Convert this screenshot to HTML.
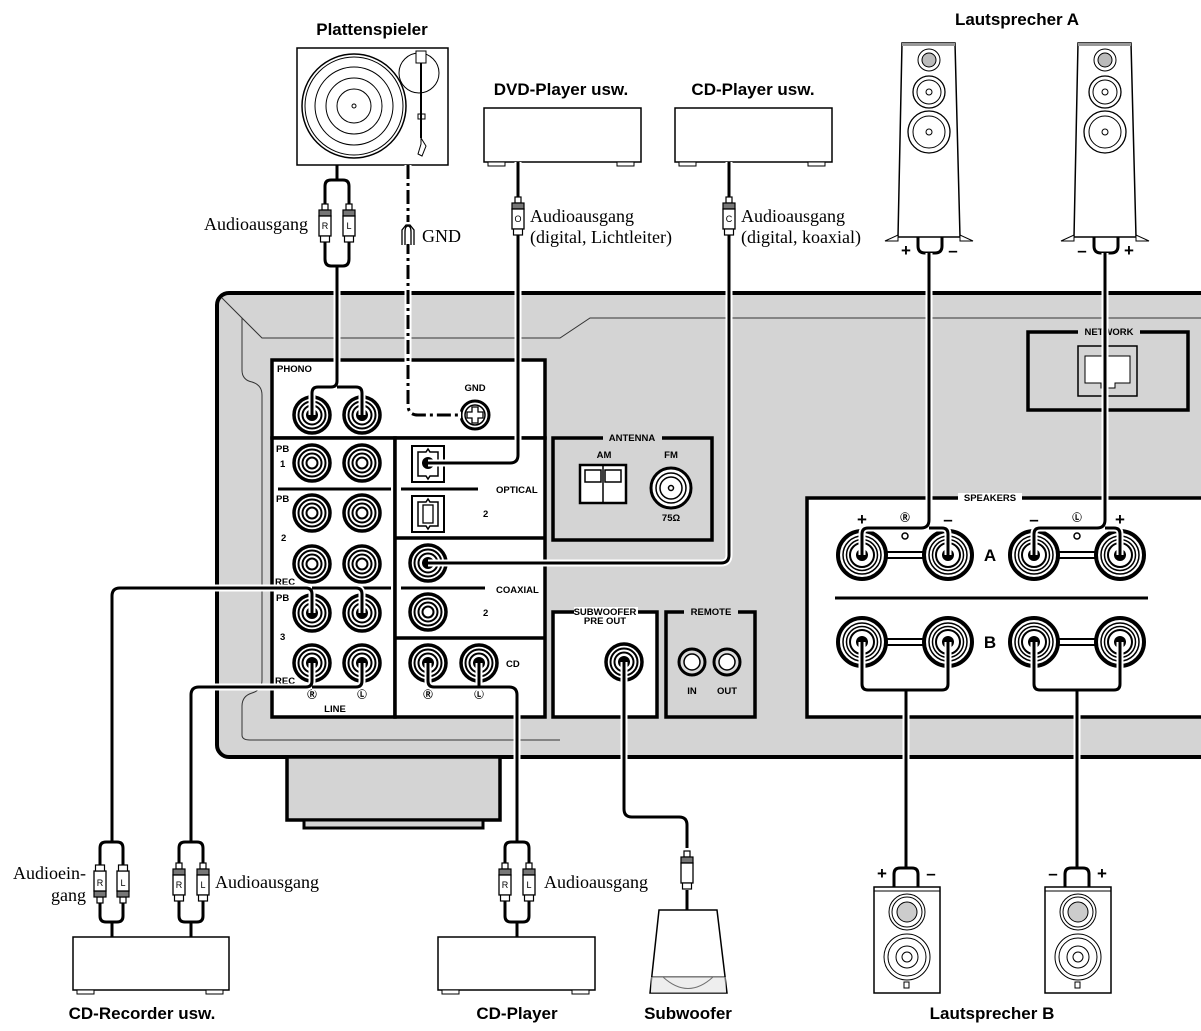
<!DOCTYPE html>
<html><head><meta charset="utf-8"><style>
html,body{margin:0;padding:0;background:#fff}
svg{display:block}
.t{font-family:"Liberation Serif",serif;font-size:18px}
.b{font-family:"Liberation Sans",sans-serif;font-weight:bold;font-size:17px}
.s{font-family:"Liberation Sans",sans-serif;font-weight:bold;font-size:9.5px}
</style></head><body>
<svg width="1201" height="1031" viewBox="0 0 1201 1031" xmlns="http://www.w3.org/2000/svg">
<defs>
<g id="je"><circle r="18" fill="#fff" stroke="#000" stroke-width="3.5"/><circle r="13.5" fill="none" stroke="#000" stroke-width="2"/><circle r="9.5" fill="none" stroke="#000" stroke-width="2"/><circle r="5.5" fill="#fff" stroke="#000" stroke-width="2"/></g>
<g id="jf"><circle r="18" fill="#fff" stroke="#000" stroke-width="3.5"/><circle r="13.5" fill="none" stroke="#000" stroke-width="2"/><circle r="9.5" fill="none" stroke="#000" stroke-width="2"/><circle r="6" fill="#000"/></g>
<g id="st"><circle r="24" fill="#fff" stroke="#000" stroke-width="4"/><circle r="19" fill="none" stroke="#000" stroke-width="1.5"/><circle r="15.5" fill="none" stroke="#000" stroke-width="1.5"/><circle r="12" fill="none" stroke="#000" stroke-width="2"/><circle r="6" fill="#000"/></g>
<g id="pl"><rect x="-3" y="-21" width="6" height="6" fill="#fff" stroke="#000" stroke-width="1.2"/><rect x="-6" y="-15" width="12" height="6" fill="#777" stroke="#000" stroke-width="1.2"/><rect x="-6" y="-9" width="12" height="20" fill="#fff" stroke="#000" stroke-width="1.3"/><rect x="-4.5" y="11" width="9" height="6" fill="#fff" stroke="#000" stroke-width="1.2"/></g>
</defs>

<text class="b" x="372" y="35" text-anchor="middle">Plattenspieler</text>
<text class="b" x="561" y="95" text-anchor="middle">DVD-Player usw.</text>
<text class="b" x="753" y="95" text-anchor="middle">CD-Player usw.</text>
<text class="b" x="1017" y="25" text-anchor="middle">Lautsprecher A</text>
<text class="b" x="142" y="1019" text-anchor="middle">CD-Recorder usw.</text>
<text class="b" x="517" y="1019" text-anchor="middle">CD-Player</text>
<text class="b" x="688" y="1019" text-anchor="middle">Subwoofer</text>
<text class="b" x="992" y="1019" text-anchor="middle">Lautsprecher B</text>

<rect x="297" y="48" width="151" height="117" fill="#fff" stroke="#000" stroke-width="1.5"/>
<circle cx="354" cy="106" r="52" fill="none" stroke="#000" stroke-width="1.5"/>
<circle cx="354" cy="106" r="49" fill="none" stroke="#000" stroke-width="1"/>
<circle cx="354" cy="106" r="39" fill="none" stroke="#000"/>
<circle cx="354" cy="106" r="28" fill="none" stroke="#000"/>
<circle cx="354" cy="106" r="17" fill="none" stroke="#000"/>
<circle cx="354" cy="106" r="2" fill="none" stroke="#000"/>
<circle cx="419" cy="73" r="20" fill="none" stroke="#000"/>
<rect x="416" y="51" width="10" height="12" fill="#fff" stroke="#000"/>
<line x1="421" y1="63" x2="421" y2="138" stroke="#000" stroke-width="2"/>
<rect x="418" y="114" width="7" height="5" fill="none" stroke="#000"/>
<path d="M421,138 l5,8 l-4,10 l-4,-2 l3,-10z" fill="#fff" stroke="#000"/>

<rect x="484" y="108" width="157" height="54" fill="#fff" stroke="#000" stroke-width="1.5"/>
<rect x="488" y="162" width="17" height="4" fill="#fff" stroke="#000"/><rect x="617" y="162" width="17" height="4" fill="#fff" stroke="#000"/>
<rect x="675" y="108" width="157" height="54" fill="#fff" stroke="#000" stroke-width="1.5"/>
<rect x="679" y="162" width="17" height="4" fill="#fff" stroke="#000"/><rect x="808" y="162" width="17" height="4" fill="#fff" stroke="#000"/>

<g id="spa">
<path d="M902,43 L955,43 L960,237 L898,237 Z" fill="#fff" stroke="#000" stroke-width="1.5"/>
<rect x="902" y="43" width="53" height="3" fill="#999"/>
<path d="M885,241 L898,235 L898,241 Z M973,241 L960,235 L960,241Z" fill="#fff" stroke="#000"/>
<circle cx="929" cy="60" r="11" fill="#fff" stroke="#000"/><circle cx="929" cy="60" r="7" fill="#bbb" stroke="#000"/>
<circle cx="929" cy="92" r="16" fill="#fff" stroke="#000" stroke-width="1.3"/><circle cx="929" cy="92" r="12" fill="none" stroke="#000"/><circle cx="929" cy="92" r="3" fill="none" stroke="#000"/>
<circle cx="929" cy="132" r="21" fill="#fff" stroke="#000" stroke-width="1.3"/><circle cx="929" cy="132" r="16" fill="none" stroke="#000"/><circle cx="929" cy="132" r="3" fill="none" stroke="#000"/>
</g>
<use href="#spa" x="176"/>
<path d="M918,237 V246 Q918,253 925,253 H935 Q942,253 942,246 V237" fill="none" stroke="#000" stroke-width="3"/>
<path d="M1094,237 V246 Q1094,253 1101,253 H1111 Q1118,253 1118,246 V237" fill="none" stroke="#000" stroke-width="3"/>
<text class="b" x="906" y="256" text-anchor="middle">+</text><text class="b" x="953" y="256" text-anchor="middle">–</text>
<text class="b" x="1082" y="256" text-anchor="middle">–</text><text class="b" x="1129" y="256" text-anchor="middle">+</text>

<rect x="217" y="293" width="1000" height="464" rx="12" fill="#d4d4d4" stroke="#000" stroke-width="4"/>
<path d="M222,298 L262,338 H560 L590,318 H1201" fill="none" stroke="#333" stroke-width="1"/>
<path d="M242,318 V370 Q242,380 252,382 Q262,385 262,395 V680 Q262,690 252,693 Q242,696 242,706 V735 Q242,740 250,740 H560" fill="none" stroke="#333" stroke-width="1"/>
<rect x="287" y="757" width="213" height="63" fill="#d4d4d4" stroke="#000" stroke-width="3.5"/>
<rect x="304" y="820" width="179" height="8" fill="#d4d4d4" stroke="#000" stroke-width="3"/>

<rect x="272" y="360" width="273" height="78" fill="#fff" stroke="#000" stroke-width="3.5"/>
<rect x="272" y="438" width="123" height="279" fill="#fff" stroke="#000" stroke-width="3.5"/>
<rect x="395" y="438" width="150" height="279" fill="#fff" stroke="#000" stroke-width="3.5"/>
<line x1="395" y1="538" x2="545" y2="538" stroke="#000" stroke-width="3.5"/>
<line x1="395" y1="638" x2="545" y2="638" stroke="#000" stroke-width="3.5"/>
<line x1="278" y1="489" x2="391" y2="489" stroke="#000" stroke-width="3"/>
<line x1="278" y1="588" x2="391" y2="588" stroke="#000" stroke-width="3"/>
<line x1="401" y1="489" x2="478" y2="489" stroke="#000" stroke-width="3"/>
<line x1="401" y1="588" x2="485" y2="588" stroke="#000" stroke-width="3"/>
<rect x="553" y="438" width="159" height="102" fill="#d4d4d4" stroke="#000" stroke-width="3.5"/>
<rect x="553" y="612" width="104" height="105" fill="#fff" stroke="#000" stroke-width="3.5"/>
<rect x="666" y="612" width="89" height="105" fill="#d4d4d4" stroke="#000" stroke-width="3.5"/>
<rect x="1028" y="332" width="160" height="78" fill="#d4d4d4" stroke="#000" stroke-width="3.5"/>
<rect x="807" y="498" width="420" height="219" fill="#fff" stroke="#000" stroke-width="3.5"/>
<line x1="835" y1="598" x2="1148" y2="598" stroke="#000" stroke-width="3"/>

<text class="s" x="277" y="372">PHONO</text>
<text class="s" x="475" y="391" text-anchor="middle">GND</text>
<text class="s" x="276" y="452">PB</text><text class="s" x="280" y="467">1</text>
<text class="s" x="276" y="502">PB</text><text class="s" x="281" y="541">2</text>
<text class="s" x="275" y="585">REC</text>
<text class="s" x="276" y="601">PB</text><text class="s" x="280" y="640">3</text>
<text class="s" x="275" y="684">REC</text>
<text class="s" x="335" y="712" text-anchor="middle">LINE</text>
<text class="s" x="312" y="402" text-anchor="middle">Ⓡ</text><text class="s" x="362" y="402" text-anchor="middle">Ⓛ</text>
<text class="s" x="312" y="698" text-anchor="middle">Ⓡ</text><text class="s" x="362" y="698" text-anchor="middle">Ⓛ</text>
<text class="s" x="428" y="698" text-anchor="middle">Ⓡ</text><text class="s" x="479" y="698" text-anchor="middle">Ⓛ</text>
<text class="s" x="496" y="493">OPTICAL</text><text class="s" x="483" y="517">2</text>
<text class="s" x="496" y="593">COAXIAL</text><text class="s" x="483" y="616">2</text>
<text class="s" x="506" y="667">CD</text>
<rect x="603" y="433" width="59" height="10" fill="#d4d4d4"/><text class="s" x="632" y="441" text-anchor="middle">ANTENNA</text>
<text class="s" x="604" y="458" text-anchor="middle">AM</text><text class="s" x="671" y="458" text-anchor="middle">FM</text>
<text class="s" x="671" y="521" text-anchor="middle">75Ω</text>
<rect x="574" y="607" width="64" height="10" fill="#fff"/><text class="s" x="605" y="615" text-anchor="middle">SUBWOOFER</text><text class="s" x="605" y="624" text-anchor="middle">PRE OUT</text>
<rect x="684" y="607" width="54" height="10" fill="#d4d4d4"/><text class="s" x="711" y="615" text-anchor="middle">REMOTE</text>
<text class="s" x="692" y="694" text-anchor="middle">IN</text><text class="s" x="727" y="694" text-anchor="middle">OUT</text>
<rect x="1078" y="327" width="62" height="10" fill="#d4d4d4"/><text class="s" x="1109" y="335" text-anchor="middle">NETWORK</text>
<rect x="958" y="493" width="64" height="10" fill="#fff"/><text class="s" x="990" y="501" text-anchor="middle">SPEAKERS</text>
<text class="b" x="862" y="525" text-anchor="middle" font-size="13">+</text><text class="s" x="905" y="521" text-anchor="middle">Ⓡ</text><text class="b" x="948" y="525" text-anchor="middle" font-size="13">–</text>
<text class="b" x="1034" y="525" text-anchor="middle" font-size="13">–</text><text class="s" x="1077" y="521" text-anchor="middle">Ⓛ</text><text class="b" x="1120" y="525" text-anchor="middle" font-size="13">+</text>
<circle cx="905" cy="536" r="3" fill="none" stroke="#000" stroke-width="1.5"/><circle cx="1077" cy="536" r="3" fill="none" stroke="#000" stroke-width="1.5"/>
<text class="b" x="990" y="561" text-anchor="middle" font-size="15">A</text>
<text class="b" x="990" y="648" text-anchor="middle" font-size="15">B</text>

<rect x="1078" y="346" width="59" height="50" fill="#d4d4d4" stroke="#000" stroke-width="1.5"/>
<path d="M1085,356 H1130 V383 H1115 V388 H1101 V383 H1085 Z" fill="#fff" stroke="#000"/>

<rect x="580" y="465" width="46" height="38" fill="#fff" stroke="#000" stroke-width="2.5"/>
<rect x="585" y="470" width="16" height="12" fill="none" stroke="#000" stroke-width="1.5"/><rect x="605" y="470" width="16" height="12" fill="none" stroke="#000" stroke-width="1.5"/>
<line x1="603" y1="466" x2="603" y2="502" stroke="#000" stroke-width="1.5"/>
<circle cx="671" cy="488" r="20" fill="#fff" stroke="#000" stroke-width="3"/><circle cx="671" cy="488" r="15" fill="none" stroke="#000" stroke-width="1.5"/><circle cx="671" cy="488" r="11" fill="none" stroke="#000" stroke-width="1.5"/><circle cx="671" cy="488" r="2.5" fill="none" stroke="#000" stroke-width="1.5"/>

<circle cx="692" cy="662" r="13" fill="#ddd" stroke="#000" stroke-width="3"/><circle cx="692" cy="662" r="8" fill="#fff" stroke="#000" stroke-width="1.5"/>
<circle cx="727" cy="662" r="13" fill="#ddd" stroke="#000" stroke-width="3"/><circle cx="727" cy="662" r="8" fill="#fff" stroke="#000" stroke-width="1.5"/>

<circle cx="475" cy="415" r="14" fill="#fff" stroke="#000" stroke-width="3"/><circle cx="475" cy="415" r="10" fill="none" stroke="#000" stroke-width="1.5"/>
<path d="M472,407 h6 v5 h5 v6 h-5 v5 h-6 v-5 h-5 v-6 h5z" fill="#fff" stroke="#000" stroke-width="1.3"/>

<rect x="412" y="446" width="32" height="36" fill="#fff" stroke="#000" stroke-width="2"/>
<path d="M418,452 h8 l2,-3 l2,3 h8 v24 h-8 l-2,3 l-2,-3 h-8z" fill="none" stroke="#000" stroke-width="1.5"/>
<circle cx="428" cy="463" r="6" fill="#000"/>
<rect x="412" y="496" width="32" height="36" fill="#fff" stroke="#000" stroke-width="2"/>
<path d="M418,502 h8 l2,-3 l2,3 h8 v24 h-8 l-2,3 l-2,-3 h-8z" fill="none" stroke="#000" stroke-width="1.5"/>
<rect x="423" y="505" width="10" height="18" fill="none" stroke="#000" stroke-width="1.3"/>

<use href="#jf" x="312" y="415"/><use href="#jf" x="362" y="415"/>
<use href="#je" x="312" y="463"/><use href="#je" x="362" y="463"/>
<use href="#je" x="312" y="513"/><use href="#je" x="362" y="513"/>
<use href="#je" x="312" y="564"/><use href="#je" x="362" y="564"/>
<use href="#jf" x="312" y="613"/><use href="#jf" x="362" y="613"/>
<use href="#jf" x="312" y="663"/><use href="#jf" x="362" y="663"/>
<use href="#jf" x="428" y="563"/><use href="#je" x="428" y="612"/>
<use href="#jf" x="428" y="663"/><use href="#jf" x="479" y="663"/>
<use href="#jf" x="624" y="662"/>

<line x1="862" y1="555" x2="948" y2="555" stroke="#000" stroke-width="8"/><line x1="862" y1="555" x2="948" y2="555" stroke="#fff" stroke-width="4"/>
<line x1="1034" y1="555" x2="1120" y2="555" stroke="#000" stroke-width="8"/><line x1="1034" y1="555" x2="1120" y2="555" stroke="#fff" stroke-width="4"/>
<line x1="862" y1="642" x2="948" y2="642" stroke="#000" stroke-width="8"/><line x1="862" y1="642" x2="948" y2="642" stroke="#fff" stroke-width="4"/>
<line x1="1034" y1="642" x2="1120" y2="642" stroke="#000" stroke-width="8"/><line x1="1034" y1="642" x2="1120" y2="642" stroke="#fff" stroke-width="4"/>
<use href="#st" x="862" y="555"/><use href="#st" x="948" y="555"/><use href="#st" x="1034" y="555"/><use href="#st" x="1120" y="555"/>
<use href="#st" x="862" y="642"/><use href="#st" x="948" y="642"/><use href="#st" x="1034" y="642"/><use href="#st" x="1120" y="642"/>

<g fill="none" stroke-linejoin="round">
<g stroke="#fff" stroke-width="7">
<path d="M337,266 V381 Q337,387 331,387 H318 Q312,387 312,393 V415 M337,387 H356 Q362,387 362,393 V415"/>
<path d="M518,162 V455 Q518,463 510,463 H428"/>
<path d="M729,162 V555 Q729,563 721,563 H428"/>
<path d="M929,253 V520 Q929,528 921,528 H868 Q862,528 862,534 V555 M929,528 H942 Q948,528 948,534 V555"/>
<path d="M1105,253 V520 Q1105,528 1097,528 H1040 Q1034,528 1034,534 V555 M1105,528 H1114 Q1120,528 1120,534 V555"/>
<path d="M862,642 V684 Q862,690 868,690 H942 Q948,690 948,684 V642 M906,690 V868"/>
<path d="M1034,642 V684 Q1034,690 1040,690 H1114 Q1120,690 1120,684 V642 M1077,690 V868"/>
<path d="M312,613 V594 Q312,588 306,588 H120 Q112,588 112,596 V842 M362,613 V594 Q362,588 356,588 H312"/>
<path d="M312,663 V681 Q312,687 306,687 H199 Q191,687 191,695 V842 M362,663 V681 Q362,687 356,687 H312"/>
<path d="M428,663 V681 Q428,687 434,687 H509 Q517,687 517,695 V842 M479,663 V687"/>
<path d="M624,662 V809 Q624,817 632,817 H679 Q687,817 687,825 V848"/>
</g>
<g stroke="#000" stroke-width="3">
<path d="M337,165 V180 M325,212 V186 Q325,180 331,180 H343 Q349,180 349,186 V212 M325,242 V259 Q325,266 331,266 H343 Q349,266 349,259 V242"/>
<path d="M337,266 V381 Q337,387 331,387 H318 Q312,387 312,393 V415 M337,387 H356 Q362,387 362,393 V415"/>
<path d="M518,162 V455 Q518,463 510,463 H428"/>
<path d="M729,162 V555 Q729,563 721,563 H428"/>
<path d="M929,253 V520 Q929,528 921,528 H868 Q862,528 862,534 V555 M929,528 H942 Q948,528 948,534 V555"/>
<path d="M1105,253 V520 Q1105,528 1097,528 H1040 Q1034,528 1034,534 V555 M1105,528 H1114 Q1120,528 1120,534 V555"/>
<path d="M862,642 V684 Q862,690 868,690 H942 Q948,690 948,684 V642 M906,690 V868"/>
<path d="M1034,642 V684 Q1034,690 1040,690 H1114 Q1120,690 1120,684 V642 M1077,690 V868"/>
<path d="M312,613 V594 Q312,588 306,588 H120 Q112,588 112,596 V842 M362,613 V594 Q362,588 356,588 H312"/>
<path d="M312,663 V681 Q312,687 306,687 H199 Q191,687 191,695 V842 M362,663 V681 Q362,687 356,687 H312"/>
<path d="M428,663 V681 Q428,687 434,687 H509 Q517,687 517,695 V842 M479,663 V687"/>
<path d="M624,662 V809 Q624,817 632,817 H679 Q687,817 687,825 V848 M687,890 V910"/>
<path d="M100,868 V848 Q100,842 106,842 H117 Q123,842 123,848 V868 M100,898 V916 Q100,922 106,922 H117 Q123,922 123,916 V898 M112,922 V937"/>
<path d="M179,868 V848 Q179,842 185,842 H197 Q203,842 203,848 V868 M179,898 V916 Q179,922 185,922 H197 Q203,922 203,916 V898 M191,922 V937"/>
<path d="M505,868 V848 Q505,842 511,842 H523 Q529,842 529,848 V868 M505,898 V916 Q505,922 511,922 H523 Q529,922 529,916 V898 M517,922 V937"/>
<path d="M894,887 V874 Q894,868 900,868 H912 Q918,868 918,874 V887"/>
<path d="M1065,887 V874 Q1065,868 1071,868 H1083 Q1089,868 1089,874 V887"/>
</g>
<path d="M408,165 V405 Q408,415 418,415 H461" stroke="#fff" stroke-width="7"/>
<path d="M408,165 V405 Q408,415 418,415 H461" stroke="#000" stroke-width="3" stroke-dasharray="14 4 3 4"/>
</g>

<g font-family="Liberation Sans,sans-serif" font-size="9" text-anchor="middle">
<use href="#pl" x="325" y="225"/><text x="325" y="229">R</text>
<use href="#pl" x="349" y="225"/><text x="349" y="229">L</text>
<use href="#pl" x="518" y="218"/><text x="518" y="222">O</text>
<use href="#pl" x="729" y="218"/><text x="729" y="222">C</text>
<g transform="translate(100,882) rotate(180)"><use href="#pl"/></g><text x="100" y="886">R</text>
<g transform="translate(123,882) rotate(180)"><use href="#pl"/></g><text x="123" y="886">L</text>
<use href="#pl" x="179" y="884"/><text x="179" y="888">R</text>
<use href="#pl" x="203" y="884"/><text x="203" y="888">L</text>
<use href="#pl" x="505" y="884"/><text x="505" y="888">R</text>
<use href="#pl" x="529" y="884"/><text x="529" y="888">L</text>
<use href="#pl" x="687" y="872"/>
</g>
<rect x="400" y="222" width="16" height="22" fill="#fff"/>
<path d="M405,245 V232 Q405,226 408,226 Q411,226 411,232 V245 M402,245 V230 L406,225 H410 L414,230 V245" fill="none" stroke="#000" stroke-width="1.3"/>

<text class="t" x="308" y="230" text-anchor="end">Audioausgang</text>
<text class="t" x="422" y="242">GND</text>
<text class="t" x="530" y="222">Audioausgang</text>
<text class="t" x="530" y="243">(digital, Lichtleiter)</text>
<text class="t" x="741" y="222">Audioausgang</text>
<text class="t" x="741" y="243">(digital, koaxial)</text>
<text class="t" x="86" y="879" text-anchor="end">Audioein-</text>
<text class="t" x="86" y="901" text-anchor="end">gang</text>
<text class="t" x="215" y="888">Audioausgang</text>
<text class="t" x="544" y="888">Audioausgang</text>

<rect x="73" y="937" width="156" height="53" fill="#fff" stroke="#000" stroke-width="1.5"/>
<rect x="77" y="990" width="17" height="4" fill="#fff" stroke="#000"/><rect x="206" y="990" width="17" height="4" fill="#fff" stroke="#000"/>
<rect x="438" y="937" width="157" height="53" fill="#fff" stroke="#000" stroke-width="1.5"/>
<rect x="442" y="990" width="17" height="4" fill="#fff" stroke="#000"/><rect x="572" y="990" width="17" height="4" fill="#fff" stroke="#000"/>

<path d="M659,910 H717 L727,993 H650 Z" fill="#fff" stroke="#000" stroke-width="1.5"/>
<line x1="652" y1="977" x2="725" y2="977" stroke="#000"/>
<path d="M663,977 Q688,1000 713,977" fill="none" stroke="#000"/>
<rect x="651" y="977" width="75" height="16" fill="#ddd" opacity="0.5"/>

<g id="spb">
<rect x="874" y="887" width="66" height="106" fill="#fff" stroke="#000" stroke-width="1.5"/>
<line x1="874" y1="891" x2="940" y2="891" stroke="#000"/>
<circle cx="907" cy="912" r="18" fill="#fff" stroke="#000"/><circle cx="907" cy="912" r="15" fill="none" stroke="#000"/><circle cx="907" cy="912" r="10" fill="#ccc" stroke="#000"/>
<circle cx="907" cy="957" r="23" fill="#fff" stroke="#000"/><circle cx="907" cy="957" r="19" fill="none" stroke="#000"/><circle cx="907" cy="957" r="11" fill="none" stroke="#000"/><circle cx="907" cy="957" r="5" fill="none" stroke="#000"/>
<rect x="904" y="982" width="5" height="6" fill="none" stroke="#000"/>
</g>
<use href="#spb" x="171"/>
<text class="b" x="882" y="879" text-anchor="middle">+</text><text class="b" x="931" y="879" text-anchor="middle">–</text>
<text class="b" x="1053" y="879" text-anchor="middle">–</text><text class="b" x="1102" y="879" text-anchor="middle">+</text>
</svg>
</body></html>
